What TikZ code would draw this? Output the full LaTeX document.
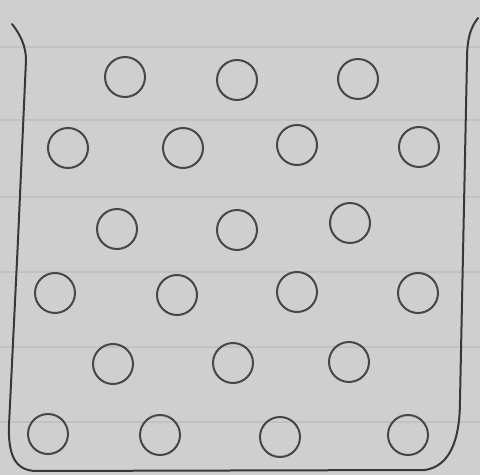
\documentclass[tikz,border=0pt]{standalone}
\begin{document}
\begin{tikzpicture}[x=0.75pt,y=-0.75pt,
  ink/.style={draw=black!78,line width=1.5pt,line cap=round,line join=round},
  particle/.style={circle,draw=black!72,line width=1.5pt,minimum size=30pt,inner sep=0pt},
  rule/.style={draw=black!24,line width=0.8pt}]
\fill[black!19] (0,0) rectangle (480,475);
\useasboundingbox (0,0) rectangle (480,475);
% faint ruled paper lines
\foreach \yy in {47,120,197,272,347,422}{\draw[rule] (0,\yy) -- (480,\yy);}
% container
\draw[ink] (12,24) .. controls (20,34) and (26,46) .. (26,60)
  -- (18,240) -- (9,425) .. controls (8,455) and (15,470) .. (35,471)
  -- (425,470) .. controls (450,466) and (460,440) .. (460,400)
  -- (467,60) .. controls (467,40) and (470,28) .. (478,18);
% particles
\node[particle] (a1) at (125,77) {};
\node[particle] (a2) at (237,80) {};
\node[particle] (a3) at (358,79) {};
\node[particle] (b1) at (68,148) {};
\node[particle] (b2) at (183,148) {};
\node[particle] (b3) at (297,145) {};
\node[particle] (b4) at (419,147) {};
\node[particle] (c1) at (117,229) {};
\node[particle] (c2) at (237,230) {};
\node[particle] (c3) at (350,223) {};
\node[particle] (d1) at (55,293) {};
\node[particle] (d2) at (177,295) {};
\node[particle] (d3) at (297,292) {};
\node[particle] (d4) at (418,293) {};
\node[particle] (e1) at (113,364) {};
\node[particle] (e2) at (233,363) {};
\node[particle] (e3) at (349,362) {};
\node[particle] (f1) at (48,434) {};
\node[particle] (f2) at (160,435) {};
\node[particle] (f3) at (280,437) {};
\node[particle] (f4) at (408,435) {};
\end{tikzpicture}
\end{document}
